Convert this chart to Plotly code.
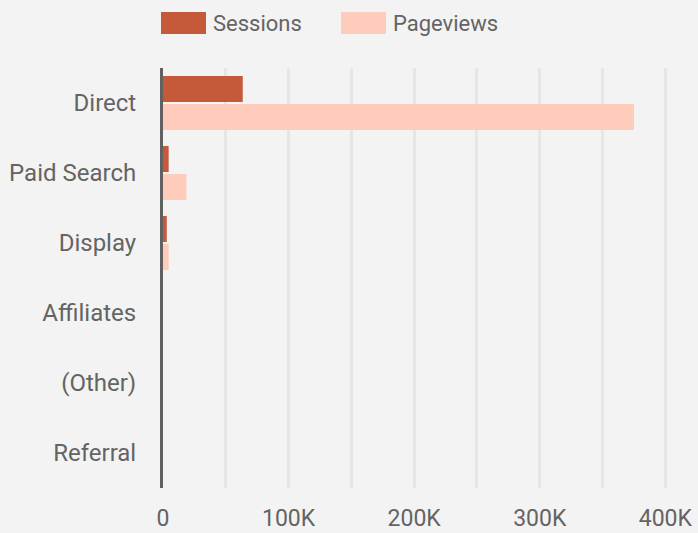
import plotly.graph_objects as go

# Traffic by channel
channels = ["Direct", "Paid Search", "Display", "Affiliates", "(Other)", "Referral"]
series_names = ["Sessions", "Pageviews"]
sessions = [63500, 4500, 3000, 0, 0, 0]
pageviews = [375000, 18700, 4500, 0, 0, 0]
tick_values = [0, 100000, 200000, 300000, 400000]
tick_labels = ["0", "100K", "200K", "300K", "400K"]

colors = ["#C55A3A", "#FFCBBA"]
font_family = "Roboto, 'Open Sans', sans-serif"
text_color = "#646464"
bg = "#F3F3F3"

fig = go.Figure()
for name, values, color in zip(series_names, [sessions, pageviews], colors):
    fig.add_trace(go.Bar(
        y=channels, x=values, name=name, orientation="h",
        marker=dict(color=color, line=dict(width=0)),
        showlegend=False,
    ))

# Legend drawn as swatches with labels above the plot
legend_x = [161, 341]
for i, (name, color) in enumerate(zip(series_names, colors)):
    x0 = legend_x[i]
    fig.add_shape(type="rect", xref="paper", yref="paper",
                  x0=(x0 - 163) / 535, x1=(x0 + 45 - 163) / 535,
                  y0=(488.5 - 34) / 420.5, y1=(488.5 - 12) / 420.5,
                  fillcolor=color, line=dict(width=0))
    fig.add_annotation(xref="paper", yref="paper",
                       x=(x0 + 50 - 163) / 535, y=(488.5 - 23) / 420.5,
                       text=name, showarrow=False, xanchor="left", yanchor="middle",
                       font=dict(family=font_family, size=22, color=text_color))

fig.update_layout(
    width=698, height=533,
    margin=dict(l=163, r=0, t=68, b=44.5),
    paper_bgcolor=bg, plot_bgcolor=bg,
    barmode="group", bargap=0.2, bargroupgap=0.07,
    font=dict(family=font_family, size=22, color=text_color),
    xaxis=dict(
        range=[0, 426000],
        tickvals=tick_values, ticktext=tick_labels,
        showgrid=True, gridcolor="#E6E6E6", gridwidth=2.5,
        minor=dict(dtick=50000, tick0=0, showgrid=True, gridcolor="#E6E6E6", gridwidth=2.5),
        zeroline=False, showline=False,
        ticks="outside", ticklen=9, tickcolor="rgba(0,0,0,0)",
        tickfont=dict(size=23, color=text_color),
        fixedrange=True,
    ),
    yaxis=dict(
        autorange="reversed",
        showgrid=False, zeroline=False,
        showline=True, linecolor="#616161", linewidth=3,
        ticks="outside", ticklen=19, tickcolor="rgba(0,0,0,0)",
        tickfont=dict(size=24, color=text_color),
        fixedrange=True,
    ),
)

fig.write_html("out.html")
